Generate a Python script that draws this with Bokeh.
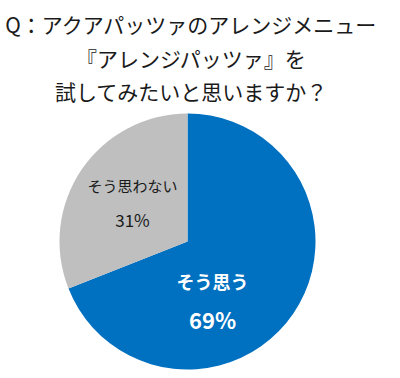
import math
from bokeh.plotting import figure
from bokeh.models import Range1d, ColumnDataSource
from bokeh.core.properties import value
from bokeh.embed import file_html
from bokeh.resources import INLINE

# ---- data ----
categories = ["そう思う", "そう思わない"]
shares = [69, 31]
pct_labels = ["69%", "31%"]
title_lines = ["Q：アクアパッツァのアレンジメニュー", "『アレンジパッツァ』を", "試してみたいと思いますか？"]

# ---- style / layout ----
W, H = 400, 378
colors = ["#0070C0", "#BFBFBF"]
text_colors = ["#FFFFFF", "#1a1a1a"]
font = "Noto Sans CJK JP"
cx, cy, r = 187, H - 241, 128
label_pos = [(212, H - 280, H - 318), (132, H - 185, H - 219)]
label_sizes = [("18px", "22px"), ("15px", "17px")]
label_styles = ["bold", "normal"]

p = figure(width=W, height=H, x_range=Range1d(0, W), y_range=Range1d(0, H),
           output_backend="svg", toolbar_location=None,
           x_axis_type=None, y_axis_type=None, min_border=0)
p.grid.visible = False
p.outline_line_color = None
p.background_fill_color = "white"

# wedges: start at 12 o'clock going clockwise
total = sum(shares)
starts, ends = [], []
a = math.pi / 2
for s in shares:
    span = 2 * math.pi * s / total
    starts.append(a - span)
    ends.append(a)
    a -= span

src = ColumnDataSource(dict(cat=categories, start=starts, end=ends, color=colors))
p.wedge(x=cx, y=cy, radius=r, start_angle="start", end_angle="end",
        fill_color="color", line_color=None, source=src)

for i, cat in enumerate(categories):
    x, y1, y2 = label_pos[i]
    p.text(x=[x], y=[y1], text=[cat], text_font=value(font), text_font_size=label_sizes[i][0],
           text_font_style=label_styles[i], text_color=text_colors[i],
           text_align="center", text_baseline="middle")
    p.text(x=[x], y=[y2], text=[pct_labels[i]], text_font=value(font), text_font_size=label_sizes[i][1],
           text_font_style=label_styles[i], text_color=text_colors[i],
           text_align="center", text_baseline="middle")

title_y = [H - 23, H - 57, H - 90]
for line, ty in zip(title_lines, title_y):
    p.text(x=[191], y=[ty], text=[line], text_font=value(font), text_font_size="21px",
           text_color="#1a1a1a", text_align="center", text_baseline="middle")

open("out.html", "w").write(file_html(p, INLINE))
